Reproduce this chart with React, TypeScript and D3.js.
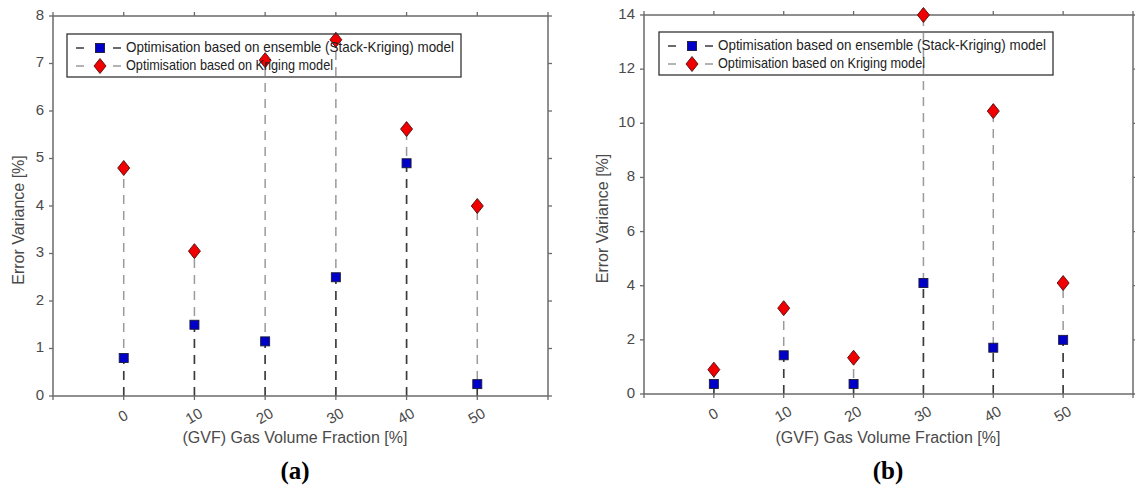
import React from 'react';
import * as d3 from 'd3';

const gvf = [0, 10, 20, 30, 40, 50];
const stackA = [0.8, 1.5, 1.15, 2.5, 4.9, 0.25];
const krigA = [4.8, 3.05, 7.07, 7.5, 5.62, 4.0];
const stackB = [0.37, 1.43, 0.37, 4.1, 1.71, 2.0];
const krigB = [0.9, 3.17, 1.34, 14, 10.45, 4.1];
const yTicksA = [0, 1, 2, 3, 4, 5, 6, 7, 8];
const yTicksB = [0, 2, 4, 6, 8, 10, 12, 14];
const xTickValues = [-10, 0, 10, 20, 30, 40, 50, 60];
const xTickLabels = ['', '0', '10', '20', '30', '40', '50', ''];
const legendLabels = [
  'Optimisation based on ensemble (Stack-Kriging) model',
  'Optimisation based on Kriging model',
];
const xTitle = '(GVF) Gas Volume Fraction [%]';
const yTitle = 'Error Variance [%]';

const AXIS = '#6b6b6b';
const TXT = '#4a4a4a';
const STACK_STEM = '#3a3a3a';
const KRIG_STEM = '#9a9a9a';
const BLUE = '#0000c8';
const RED = '#f00000';
const FONT = 'Liberation Sans, Arial, sans-serif';

type PanelProps = {
  x0: number; x1: number; yTop: number; yBot: number; yMax: number;
  yTicks: number[]; stack: number[]; krig: number[]; tag: string;
  legendX: number; legendY: number; yTitleX: number; titleCx: number;
};

function Square({ cx, cy }: { cx: number; cy: number }) {
  const s = 9;
  return <rect x={cx - s / 2} y={cy - s / 2} width={s} height={s} fill={BLUE} stroke="#1a1a3a" strokeWidth={0.9} />;
}
function Diamond({ cx, cy }: { cx: number; cy: number }) {
  const w = 6, h = 7.5;
  return <path d={`M${cx},${cy - h}L${cx + w},${cy}L${cx},${cy + h}L${cx - w},${cy}Z`} fill={RED} stroke="#4a1010" strokeWidth={0.9} />;
}

function Panel(p: PanelProps) {
  const x = d3.scaleLinear().domain([-10, 60]).range([p.x0, p.x1]);
  const y = d3.scaleLinear().domain([0, p.yMax]).range([p.yBot, p.yTop]);
  const tl = 4;
  const dash = '9,7';
  return (
    <g>
      {gvf.map((g, i) => (
        <line key={'k' + i} x1={x(g)} x2={x(g)} y1={y(0)} y2={y(p.krig[i])} stroke={KRIG_STEM} strokeWidth={1.5} strokeDasharray={dash} />
      ))}
      {gvf.map((g, i) => (
        <line key={'s' + i} x1={x(g)} x2={x(g)} y1={y(0)} y2={y(p.stack[i])} stroke={STACK_STEM} strokeWidth={1.5} strokeDasharray={dash} />
      ))}
      <rect x={p.x0} y={p.yTop} width={p.x1 - p.x0} height={p.yBot - p.yTop} fill="none" stroke={AXIS} strokeWidth={1.5} />
      {xTickValues.map((t, i) => (
        <g key={'xt' + i}>
          <line x1={x(t)} x2={x(t)} y1={p.yBot} y2={p.yBot + tl} stroke={AXIS} strokeWidth={1.3} />
          <line x1={x(t)} x2={x(t)} y1={p.yTop} y2={p.yTop - tl} stroke={AXIS} strokeWidth={1.3} />
          {xTickLabels[i] && (
            <text transform={`translate(${x(t)},${p.yBot + 21}) rotate(-30)`} textAnchor="middle" dominantBaseline="middle" fontFamily={FONT} fontSize={15} fill={TXT}>{xTickLabels[i]}</text>
          )}
        </g>
      ))}
      {p.yTicks.map((t, i) => (
        <g key={'yt' + i}>
          <line x1={p.x0 - tl} x2={p.x0} y1={y(t)} y2={y(t)} stroke={AXIS} strokeWidth={1.3} />
          <line x1={p.x1} x2={p.x1 + tl} y1={y(t)} y2={y(t)} stroke={AXIS} strokeWidth={1.3} />
          <text x={p.x0 - 9} y={y(t)} textAnchor="end" dominantBaseline="middle" fontFamily={FONT} fontSize={15} fill={TXT}>{t}</text>
        </g>
      ))}
      {gvf.map((g, i) => <Diamond key={'d' + i} cx={x(g)} cy={y(p.krig[i])} />)}
      {gvf.map((g, i) => <Square key={'q' + i} cx={x(g)} cy={y(p.stack[i])} />)}
      <g transform={`translate(${p.legendX},${p.legendY})`}>
        <rect x={0} y={0} width={394} height={43} fill="none" stroke="#333" strokeWidth={1.3} />
        <line x1={9} x2={17} y1={14} y2={14} stroke={STACK_STEM} strokeWidth={1.5} />
        <line x1={46} x2={54} y1={14} y2={14} stroke={STACK_STEM} strokeWidth={1.5} />
        <Square cx={33} cy={14} />
        <line x1={9} x2={17} y1={32} y2={32} stroke={KRIG_STEM} strokeWidth={1.5} />
        <line x1={46} x2={54} y1={32} y2={32} stroke={KRIG_STEM} strokeWidth={1.5} />
        <Diamond cx={33} cy={32} />
        <text x={59} y={14} dominantBaseline="middle" fontFamily={FONT} fontSize={15} fill="#222" textLength={328} lengthAdjust="spacingAndGlyphs">{legendLabels[0]}</text>
        <text x={59} y={32} dominantBaseline="middle" fontFamily={FONT} fontSize={15} fill="#222" textLength={207} lengthAdjust="spacingAndGlyphs">{legendLabels[1]}</text>
      </g>
      <text x={p.titleCx} y={443} textAnchor="middle" fontFamily={FONT} fontSize={16} fill={TXT}>{xTitle}</text>
      <text transform={`translate(${p.yTitleX},${(p.yTop + p.yBot) / 2 + 14}) rotate(-90)`} textAnchor="middle" dominantBaseline="middle" fontFamily={FONT} fontSize={16} fill={TXT}>{yTitle}</text>
      <text x={p.titleCx} y={479} textAnchor="middle" fontFamily="Liberation Serif, Times New Roman, serif" fontWeight="bold" fontSize={25} fill="#000">{p.tag}</text>
    </g>
  );
}

export default function App() {
  return (
    <svg width={1135} height={486} style={{ position: 'absolute', left: 0, top: 0, background: 'white' }}>
      <rect width={1135} height={486} fill="white" />
      <Panel x0={53} x1={548} yTop={16} yBot={396} yMax={8} yTicks={yTicksA} stack={stackA} krig={krigA} tag="(a)" legendX={67} legendY={34} yTitleX={20} titleCx={295} />
      <Panel x0={644} x1={1133} yTop={15} yBot={394} yMax={14} yTicks={yTicksB} stack={stackB} krig={krigB} tag="(b)" legendX={659} legendY={32} yTitleX={604} titleCx={888} />
    </svg>
  );
}
